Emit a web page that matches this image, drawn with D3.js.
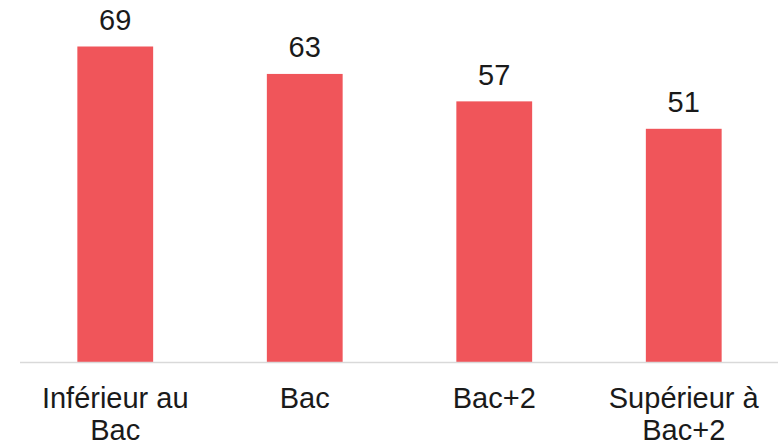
<!DOCTYPE html>
<html><head><meta charset="utf-8">
<script src="https://cdn.jsdelivr.net/npm/d3@7/dist/d3.min.js"></script>
<style>body{margin:0;background:#fff}svg{display:block}</style>
</head><body><svg id="c" width="778" height="444"></svg>
<script>
const categories = [["Inférieur au","Bac"],["Bac"],["Bac+2"],["Supérieur à","Bac+2"]];
const values = [69, 63, 57, 51];

const svg = d3.select("#c");
const font = "'Liberation Sans', Arial, sans-serif";
const keys = categories.map((c,i)=>i);
const x = d3.scaleBand().domain(keys).range([20.5, 778.5]).paddingInner(0.6).paddingOuter(0.3);
const y = d3.scaleLinear().domain([0, 69]).range([362, 46.5]);

svg.append("g").selectAll("rect").data(values).join("rect")
  .attr("x", (d,i)=>x(i)).attr("width", x.bandwidth())
  .attr("y", d=>y(d)).attr("height", d=>y(0)-y(d))
  .attr("fill", "#F0555A");

svg.append("line").attr("x1",20).attr("x2",778).attr("y1",362.5).attr("y2",362.5)
  .attr("stroke","#d9d9d9").attr("stroke-width",1.5);

svg.append("g").selectAll("text").data(values).join("text")
  .attr("x",(d,i)=>x(i)+x.bandwidth()/2).attr("y",d=>y(d)-16.5)
  .attr("text-anchor","middle").attr("font-family",font).attr("font-size",29)
  .attr("fill","#1a1a1a").text(d=>d);

const lab = svg.append("g").selectAll("text").data(categories).join("text")
  .attr("x",(d,i)=>x(i)+x.bandwidth()/2).attr("y",408)
  .attr("text-anchor","middle").attr("font-family",font).attr("font-size",29)
  .attr("fill","#1a1a1a");
lab.selectAll("tspan").data(d=>d).join("tspan")
  .attr("x",function(){return this.parentNode.getAttribute("x");})
  .attr("dy",(d,j)=>j===0?0:32).text(d=>d);
</script></body></html>
